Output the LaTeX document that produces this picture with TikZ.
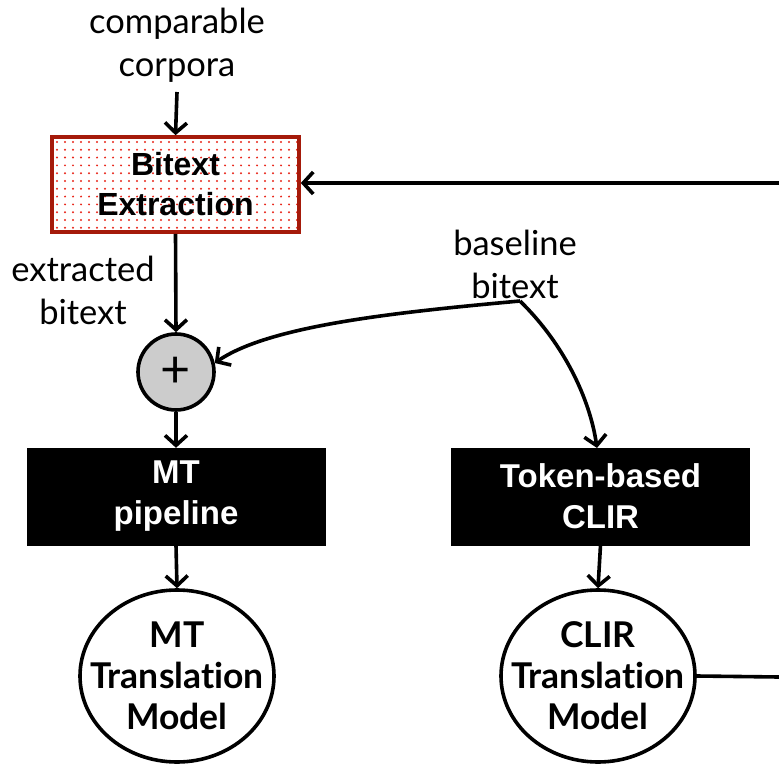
\documentclass[tikz,border=0pt]{standalone}
\usepackage{fontspec}
\setmainfont{Lato}[Ligatures={NoCommon,NoRare}]
\newfontfamily\boxfont{Liberation Sans}
\usetikzlibrary{arrows.meta,shapes.geometric}
\definecolor{boxred}{HTML}{A51A0A}
\definecolor{dotred}{HTML}{E8261A}
\definecolor{plusgray}{HTML}{CCCCCC}
\begin{document}
\begin{tikzpicture}[x=1pt,y=-1pt,
  flow/.style={line width=3.6pt,-{Straight Barb[length=10pt,width=22pt]}},
  plainline/.style={line width=3.6pt},
  lbl/.style={font=\fontsize{34.5}{43}\selectfont, align=center, inner sep=0pt},
  blackbox/.style={draw=black, fill=black, text=white, minimum width=298pt,
    minimum height=97pt, inner sep=0pt, align=center,
    font=\boxfont\bfseries\fontsize{33}{41}\selectfont},
  modelnode/.style={ellipse, draw=black, line width=3.6pt, fill=white,
    minimum width=194pt, minimum height=172pt, inner sep=0pt},
  modeltext/.style={inner sep=0pt, align=center,
    font=\bfseries\fontsize{35.5}{41}\selectfont}]
\useasboundingbox (0,0) rectangle (779,770);

% extraction box with dotted fill
\begin{scope}
  \clip (52,137) rectangle (299,232);
  \foreach \i in {0,...,31} {
    \foreach \j in {0,...,12} {
      \pgfmathsetmacro{\dx}{57+\i*8}
      \pgfmathsetmacro{\dy}{142+\j*7.8}
      \fill[dotred] (\dx,\dy) circle (1.1pt);
    }
  }
\end{scope}
\node[draw=boxred, line width=3.6pt, minimum width=247pt, minimum height=95pt,
  inner sep=0pt, align=center, font=\boxfont\bfseries\fontsize{32}{40}\selectfont]
  (extract) at (175.5,184.5) {Bitext\\Extraction};

\node[lbl] (corpora) at (177,45) {comparable\\corpora};
\node[lbl] (extracted) at (83,290) {extracted\\bitext};
\node[lbl] (baseline) at (515,264) {baseline\\bitext};

\node[circle, draw=black, line width=3.6pt, fill=plusgray, minimum size=76pt,
  inner sep=0pt, font=\fontsize{52}{52}\selectfont] (plus) at (176,372) {+};

\node[blackbox] (mt) at (176,496.5) {MT\\pipeline};
\node[blackbox] (clir) at (600.5,496.5) {Token-based\\CLIR};

\node[modelnode] (mtmodel) at (177,676) {};
\node[modeltext] (mtmodeltext) at (mtmodel.center) {MT\\Translation\\Model};
\node[modelnode] (clirmodel) at (598,676) {};
\node[modeltext] (clirmodeltext) at (clirmodel.center) {CLIR\\Translation\\Model};

\coordinate (split) at (520,301);
\coordinate (feedin) at (779,183);
\coordinate (feedout) at (779,677);
\coordinate (corpfoot) at (177,92);
\coordinate (clirtop) at (597,448);

% connectors
\draw[flow] (corpfoot) -- (extract.north);
\draw[flow] (extract.south) -- (plus.north);
\draw[flow] (plus.south) -- (mt.north);
\draw[flow] (mt.south) -- (mtmodel.north);
\draw[flow] (clir.south) -- (clirmodel.north);
\draw[flow] (feedin) -- (extract.east |- feedin);
\draw[plainline] (clirmodel.east) -- (feedout);
\draw[flow] (split) .. controls (400,312) and (270,325) .. (plus.13);
\draw[flow] (split) .. controls (565,345) and (590,400) .. (clirtop);
\end{tikzpicture}
\end{document}
